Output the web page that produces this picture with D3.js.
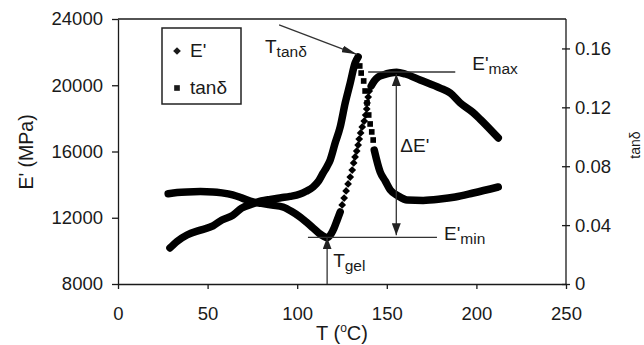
<!DOCTYPE html>
<html>
<head>
<meta charset="utf-8">
<script src="https://cdn.jsdelivr.net/npm/d3@7.9.0/dist/d3.min.js"></script>
<style>
  body { margin: 0; background: #fff; }
  svg { display: block; font-family: "Liberation Sans", Arial, sans-serif; fill: #1a1a1a; }
  .axis path, .axis line { stroke: #1a1a1a; stroke-width: 1.3; }
  .axis text { font-size: 18.5px; fill: #1a1a1a; }
  .note { stroke: #333; stroke-width: 1.3; fill: none; }
</style>
</head>
<body>
<svg id="chart" width="644" height="345"></svg>
<script>
// values
const tempE = [28, 33, 38.5, 46, 53, 58, 64, 69, 75.4, 80, 86, 92, 97, 101.6, 105, 108.9, 112, 114.5, 116.7,
  118.9, 120.6, 122.3, 124, 125.1, 126.2, 127.3, 128.4, 129.6, 130.7, 131.5, 132.3, 133.2, 134, 134.6, 135.4,
  136.3, 137.4, 138.2, 138.8, 139, 139.6, 140.2, 141.3, 143, 145.2, 148, 151.9, 155.5, 160.3, 168.6, 179.8,
  185.4, 191, 198.2, 202.1, 212.2];
const modulus = [13450, 13520, 13560, 13580, 13560, 13500, 13380, 13200, 12950, 12870, 12760, 12650, 12380, 12050,
  11750, 11380, 11080, 10900, 10800, 11020, 11380, 11860, 12350, 12770, 13190, 13620, 14040, 14460, 14880, 15310,
  15670, 16030, 16390, 16750, 17120, 17480, 17840, 18200, 18570, 18930, 19290, 19650, 19950, 20260, 20500, 20620,
  20740, 20790, 20680, 20320, 19830, 19530, 18930, 18350, 17950, 16820];

const tempTan = [29, 33, 38.5, 46, 53, 58, 64, 69, 75.4, 80, 85, 91, 96, 101.6, 105, 108.9, 112, 114.5, 116.5,
  118.4, 121.2, 124, 126.8, 129.6, 132.3, 134, 134.9, 135.7, 137.1, 137.9, 139, 139.9, 140.7, 141.6, 142.4,
  143, 146.3, 149.1, 151.9, 156.4, 161.4, 170.3, 179.8, 188.2, 198.2, 212.2];
const tanDelta = [0.0245, 0.029, 0.0333, 0.0366, 0.0395, 0.0435, 0.0466, 0.0515, 0.0545, 0.0564, 0.0575, 0.0586,
  0.0595, 0.0611, 0.063, 0.0659, 0.07, 0.0754, 0.0795, 0.0842, 0.0958, 0.1067, 0.123, 0.1366, 0.1501, 0.1542,
  0.1481, 0.1433, 0.1379, 0.1311, 0.123, 0.1148, 0.1087, 0.1033, 0.0978, 0.091, 0.0761, 0.07, 0.0639, 0.0598,
  0.0571, 0.0568, 0.0577, 0.0591, 0.0618, 0.0659];

const xTicks = [0, 50, 100, 150, 200, 250];
const eTicks = [8000, 12000, 16000, 20000, 24000];
const tanTicks = [0, 0.04, 0.08, 0.12, 0.16];

// annotation values
const eMax = 20800, eMin = 10820, tGel = 116.7, tDelta = 155.3;
const peakTip = [133.2, 0.156];
const peakFrom = [89.9, 23640];

const svg = d3.select('#chart');
const x = d3.scaleLinear([0, 250], [118, 566]);
const yE = d3.scaleLinear([8000, 24000], [284, 19]);
const yT = d3.scaleLinear([0, 0.18], [284, 19]);

// arrow heads
const defs = svg.append('defs');
function arrowDef(id, len, wid) {
  defs.append('marker')
    .attr('id', id)
    .attr('markerUnits', 'userSpaceOnUse')
    .attr('viewBox', `0 0 ${len} ${wid}`)
    .attr('markerWidth', len).attr('markerHeight', wid)
    .attr('refX', len).attr('refY', wid / 2)
    .attr('orient', 'auto-start-reverse')
    .append('path')
    .attr('d', `M0,0L${len},${wid / 2}L0,${wid}Z`)
    .attr('fill', '#222');
}
arrowDef('arr', 12, 9);
arrowDef('arrLong', 15, 7);

// frame
svg.append('line').attr('class', 'note').style('stroke', '#1a1a1a')
  .attr('x1', x(0)).attr('x2', x(250)).attr('y1', yE(24000)).attr('y2', yE(24000));

svg.append('g').attr('class', 'axis')
  .attr('transform', `translate(${x(0)},0)`)
  .call(d3.axisLeft(yE).tickValues(eTicks).tickSizeInner(6).tickSizeOuter(0).tickPadding(9).tickFormat(d3.format('d')));

svg.append('g').attr('class', 'axis')
  .attr('transform', `translate(0,${yE(8000)})`)
  .call(d3.axisBottom(x).tickValues(xTicks).tickSizeInner(5).tickSizeOuter(0).tickPadding(18));

const right = svg.append('g').attr('class', 'axis')
  .attr('transform', `translate(${x(250)},0)`)
  .call(d3.axisRight(yT).tickValues(tanTicks).tickSizeInner(4).tickSizeOuter(0).tickPadding(5)
    .tickFormat(d => d === 0 ? '0' : d.toFixed(2)));
right.selectAll('.tick line').attr('x1', -4);
right.select('.domain').attr('d', `M0,${yT(0.18)}V${yT(0)}`);

// axis titles
svg.append('text')
  .attr('transform', `translate(33,152) rotate(-90)`)
  .attr('text-anchor', 'middle').style('font-size', '19.5px')
  .text("E' (MPa)");
svg.append('text')
  .attr('transform', `translate(640,145) rotate(-90)`)
  .attr('text-anchor', 'middle').style('font-size', '14px')
  .text('tanδ');
const xt = svg.append('text').attr('x', 342).attr('y', 340)
  .attr('text-anchor', 'middle').style('font-size', '20px');
xt.append('tspan').text('T (');
xt.append('tspan').text('o').style('font-size', '12px').attr('dy', -8);
xt.append('tspan').text('C)').attr('dy', 8);

// curves
const eData = d3.zip(tempE, modulus);
const tData = d3.zip(tempTan, tanDelta);

function drawSeries(data, yScale, lo, hi, symbol) {
  const line = d3.line().x(d => x(d[0])).y(d => yScale(d[1])).curve(d3.curveMonotoneX);
  [data.filter(d => d[0] <= lo), data.filter(d => d[0] >= hi)].forEach(part => {
    svg.append('path')
      .attr('d', line(part))
      .attr('fill', 'none')
      .attr('stroke', '#000')
      .attr('stroke-width', 7.5)
      .attr('stroke-linecap', 'round')
      .attr('stroke-linejoin', 'round');
  });
  svg.append('g').selectAll('path')
    .data(data.filter(d => d[0] > lo && d[0] < hi))
    .join('path')
    .attr('d', symbol)
    .attr('fill', '#000')
    .attr('transform', d => `translate(${x(d[0])},${yScale(d[1])})` + (symbol === diamond ? ' rotate(45)' : ''));
}
const diamond = d3.symbol(d3.symbolSquare, 30)();
const square = d3.symbol(d3.symbolSquare, 32)();

drawSeries(eData, yE, 124, 141.3, diamond);
drawSeries(tData, yT, 134, 143, square);

// annotations
svg.append('line').attr('class', 'note')
  .attr('x1', x(139.6)).attr('x2', x(188.2)).attr('y1', yE(eMax)).attr('y2', yE(eMax));
svg.append('line').attr('class', 'note')
  .attr('x1', x(106)).attr('x2', x(178)).attr('y1', yE(eMin)).attr('y2', yE(eMin));
svg.append('line').attr('class', 'note')
  .attr('x1', x(tDelta)).attr('x2', x(tDelta)).attr('y1', yE(eMax) + 2).attr('y2', yE(eMin) - 2)
  .attr('marker-start', 'url(#arr)').attr('marker-end', 'url(#arr)');
svg.append('line').attr('class', 'note')
  .attr('x1', x(tGel)).attr('x2', x(tGel)).attr('y1', yE(8000)).attr('y2', yE(eMin))
  .attr('marker-end', 'url(#arr)');
svg.append('line').attr('class', 'note')
  .attr('x1', x(peakFrom[0])).attr('y1', yE(peakFrom[1]))
  .attr('x2', x(peakTip[0])).attr('y2', yT(peakTip[1]))
  .attr('marker-end', 'url(#arrLong)');

function label(px, py, main, sub) {
  const t = svg.append('text').attr('x', px).attr('y', py).style('font-size', '19px');
  t.append('tspan').text(main);
  if (sub) t.append('tspan').text(sub).style('font-size', '15.5px').attr('dy', 4);
  return t;
}
label(x(188.2) + 17, yE(eMax) - 2, "E'", 'max');
label(x(178) + 7, yE(eMin) + 3, "E'", 'min');
label(x(tDelta) + 4, 152, "ΔE'");
label(x(tGel) + 6, 267, 'T', 'gel');
label(265, 53, 'T', 'tanδ');

// legend
const lg = svg.append('g');
lg.append('rect').attr('x', 162).attr('y', 28).attr('width', 79).attr('height', 76)
  .attr('fill', '#fff').attr('stroke', '#222').attr('stroke-width', 1.5);
lg.append('path').attr('d', diamond).attr('transform', 'translate(177,51) rotate(45)');
lg.append('path').attr('d', square).attr('transform', 'translate(177,88)');
lg.append('text').attr('x', 190).attr('y', 57).style('font-size', '19px').text("E'");
lg.append('text').attr('x', 190).attr('y', 94).style('font-size', '19px').text('tanδ');
</script>
</body>
</html>
